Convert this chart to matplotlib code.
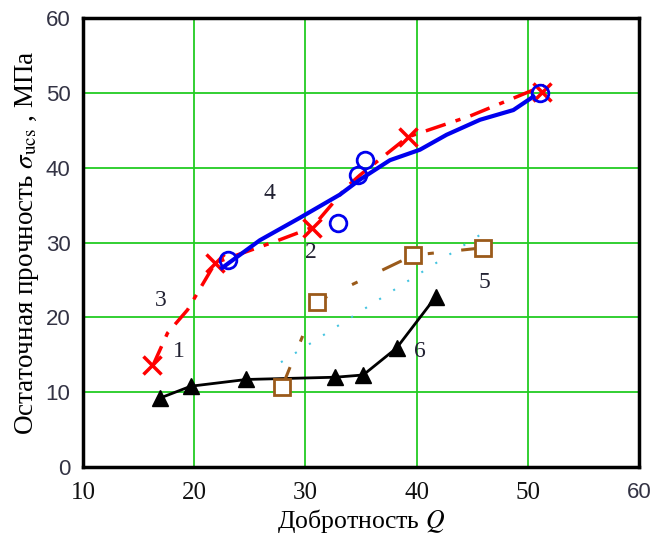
import matplotlib.pyplot as plt

plt.rcParams['mathtext.fontset'] = 'stix'

# curve 6: black triangles
q6 = [16.9, 19.7, 24.7, 32.7, 35.2, 38.2, 41.7]
s6 = [9.2, 10.8, 11.7, 12.0, 12.3, 15.9, 22.7]

# curve 5: brown squares + dotted trend
q5 = [27.9, 31.0, 39.7, 46.0]
s5 = [10.7, 22.1, 28.3, 29.3]
q5_trend = [27.8, 46.0]
s5_trend = [14.0, 31.3]

# red crosses and red dash-dot curve
q_x = [16.2, 21.9, 30.6, 39.2, 51.3]
s_x = [13.6, 27.3, 32.0, 44.1, 50.1]
q_red = [16.3, 17.6, 19.4, 21.9, 27.4, 30.6, 33.7, 34.9, 39.2, 44.8, 51.5]
s_red = [13.6, 17.9, 21.0, 27.3, 30.2, 32.0, 37.4, 39.0, 44.1, 46.9, 51.0]

# blue circles and blue solid curve
q_o = [23.0, 32.9, 34.7, 35.4, 51.1]
s_o = [27.7, 32.6, 39.0, 41.0, 50.0]
q_blue = [22.5, 25.9, 29.5, 33.1, 34.9, 37.6, 40.3, 42.7, 45.7, 48.7, 50.5]
s_blue = [26.6, 30.3, 33.3, 36.4, 38.4, 41.0, 42.4, 44.4, 46.4, 47.7, 49.5]

# curve numbers
lab_txt = ['1', '2', '3', '4', '5', '6']
lab_q = [18.6, 30.5, 17.0, 26.8, 46.1, 40.3]
lab_s = [15.4, 28.7, 22.3, 36.6, 24.7, 15.4]

fig = plt.figure(figsize=(6.54, 5.44), dpi=100)
ax = fig.add_axes([0.1269, 0.1415, 0.8502, 0.8254])

ax.plot(q6, s6, color='black', lw=2, marker='^', ms=11, zorder=3)
ax.plot(q5_trend, s5_trend, color='#44c4e0', lw=1.5, ls=(0, (1, 7)), zorder=3)
ax.plot(q5, s5, color='#9a5a1a', lw=2.2, ls=(0, (7, 9, 2, 9)), zorder=3)
ax.plot(q5, s5, ls='none', marker='s', ms=12, mfc='white', mec='#9a5a1a', mew=2, zorder=4)
ax.plot(q_red, s_red, color='red', lw=2.5, ls=(0, (6, 3, 1.5, 3)), zorder=4)
ax.plot(q_x, s_x, ls='none', marker='x', ms=13, mew=2.5, color='red', zorder=4)
ax.plot(q_blue, s_blue, color='#0000ee', lw=3, zorder=5)
ax.plot(q_o, s_o, ls='none', marker='o', ms=12, mfc='none', mec='#0000ee', mew=2, zorder=5)

for t, q, s in zip(lab_txt, lab_q, lab_s):
    ax.text(q, s, t, fontsize=17, family='Liberation Serif', color='#222233',
            ha='center', va='center', zorder=6)

ax.set_xlim(10, 60)
ax.set_ylim(0, 60)
ax.set_xticks([10, 20, 30, 40, 50, 60])
ax.set_yticks([0, 10, 20, 30, 40, 50, 60])
ax.grid(True, color='#22cc22', lw=1.3)
ax.set_axisbelow(True)
for sp in ax.spines.values():
    sp.set_linewidth(2.5)
    sp.set_color('black')

ax.tick_params(length=0)
ax.tick_params(axis='x', pad=11, labelsize=18, labelfontfamily='Liberation Serif',
               labelcolor='#111111')
ax.tick_params(axis='y', pad=9, labelsize=16, labelfontfamily='Liberation Sans',
               labelcolor='#333344')
fig.canvas.draw()
last = ax.get_xticklabels()[-1]
last.set_fontfamily('Liberation Sans')
last.set_fontsize(16)
last.set_color('#333344')

ax.set_xlabel('Добротность $Q$', fontsize=18.5, family='Liberation Serif', labelpad=2)
ax.set_ylabel(r'Остаточная прочность $\sigma_{\mathrm{ucs}}$ , МПа', fontsize=19.5,
              family='Liberation Serif', labelpad=3)

fig.savefig('out.png', dpi=100)
